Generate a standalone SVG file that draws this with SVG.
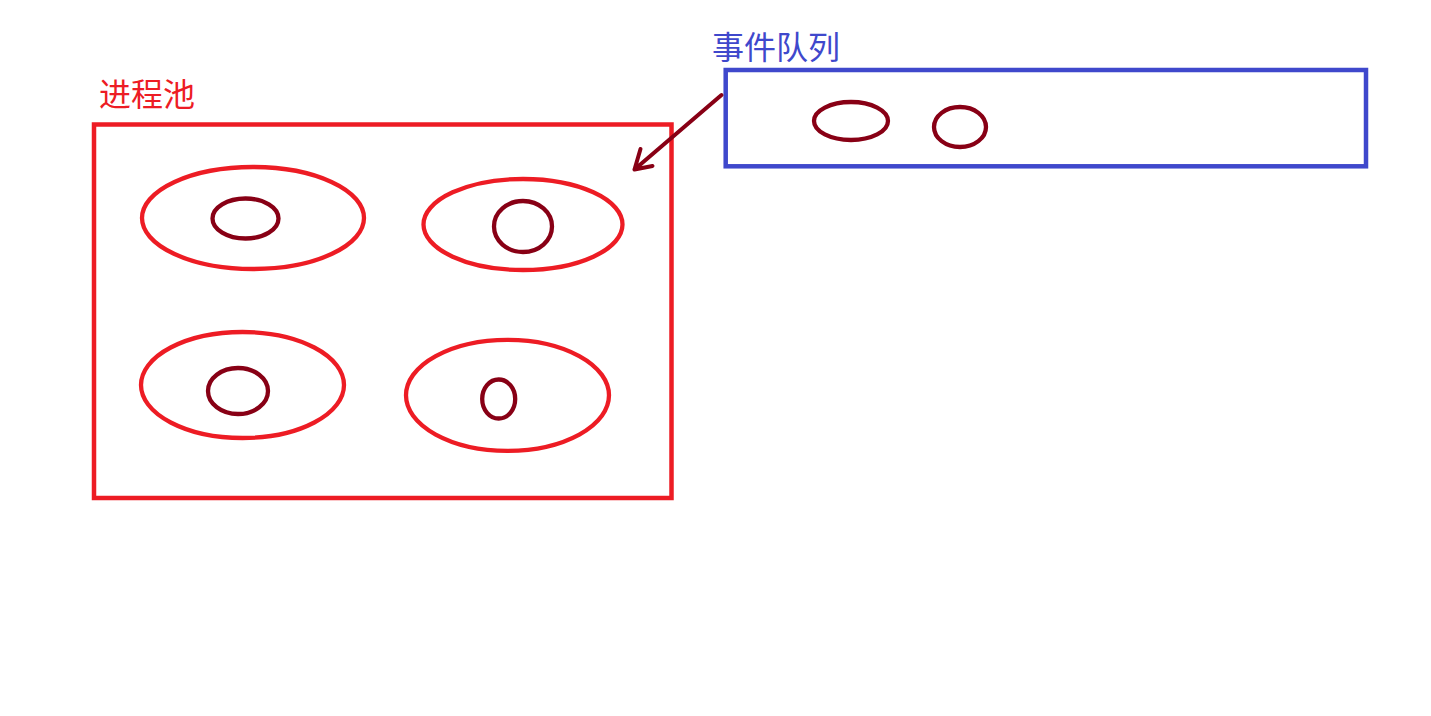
<svg xmlns="http://www.w3.org/2000/svg" width="1431" height="716" viewBox="0 0 1431 716">
<style>
.red{fill:none;stroke:#ED1C24;stroke-width:4.3}
.dark{fill:none;stroke:#880015;stroke-width:4.3}
.blue{fill:none;stroke:#3F48CC;stroke-width:4.5}
.lbl{font-family:"Microsoft YaHei","Noto Sans CJK SC",sans-serif;font-size:32px}
</style>
<rect width="1431" height="716" fill="#ffffff"/>
<g id="pool">
<rect class="red" x="94" y="124.5" width="577.5" height="373.5" style="stroke-width:4.5"/>
<text class="lbl" x="99" y="106" fill="#ED1C24">进程池</text>
</g>
<g id="proc1">
<ellipse class="red" cx="253" cy="218" rx="111" ry="51"/>
<ellipse class="dark" cx="245.5" cy="218.5" rx="33" ry="20"/>
</g>
<g id="proc2">
<ellipse class="red" cx="523" cy="224.5" rx="99.5" ry="45.5"/>
<ellipse class="dark" cx="523" cy="226.5" rx="29" ry="25.5"/>
</g>
<g id="proc3">
<ellipse class="red" cx="242.5" cy="385" rx="101.5" ry="53"/>
<ellipse class="dark" cx="238" cy="391" rx="30" ry="23"/>
</g>
<g id="proc4">
<ellipse class="red" cx="507.5" cy="395.3" rx="101.5" ry="55.5"/>
<ellipse class="dark" cx="498.7" cy="399" rx="16.5" ry="19.5"/>
</g>
<g id="queue">
<rect class="blue" x="725.7" y="70" width="640.3" height="96.3"/>
<text class="lbl" x="712" y="59" fill="#3F48CC">事件队列</text>
<ellipse class="dark" cx="851" cy="121" rx="37" ry="19"/>
<ellipse class="dark" cx="960" cy="127" rx="26" ry="20"/>
</g>
<g id="connectors">
<path d="M721.5 95 L634.5 169.5 M634.5 169.5 L640.5 149 M634.5 169.5 L652.5 166" fill="none" stroke="#880015" stroke-width="4" stroke-linecap="round" stroke-linejoin="round"/>
</g>
</svg>
